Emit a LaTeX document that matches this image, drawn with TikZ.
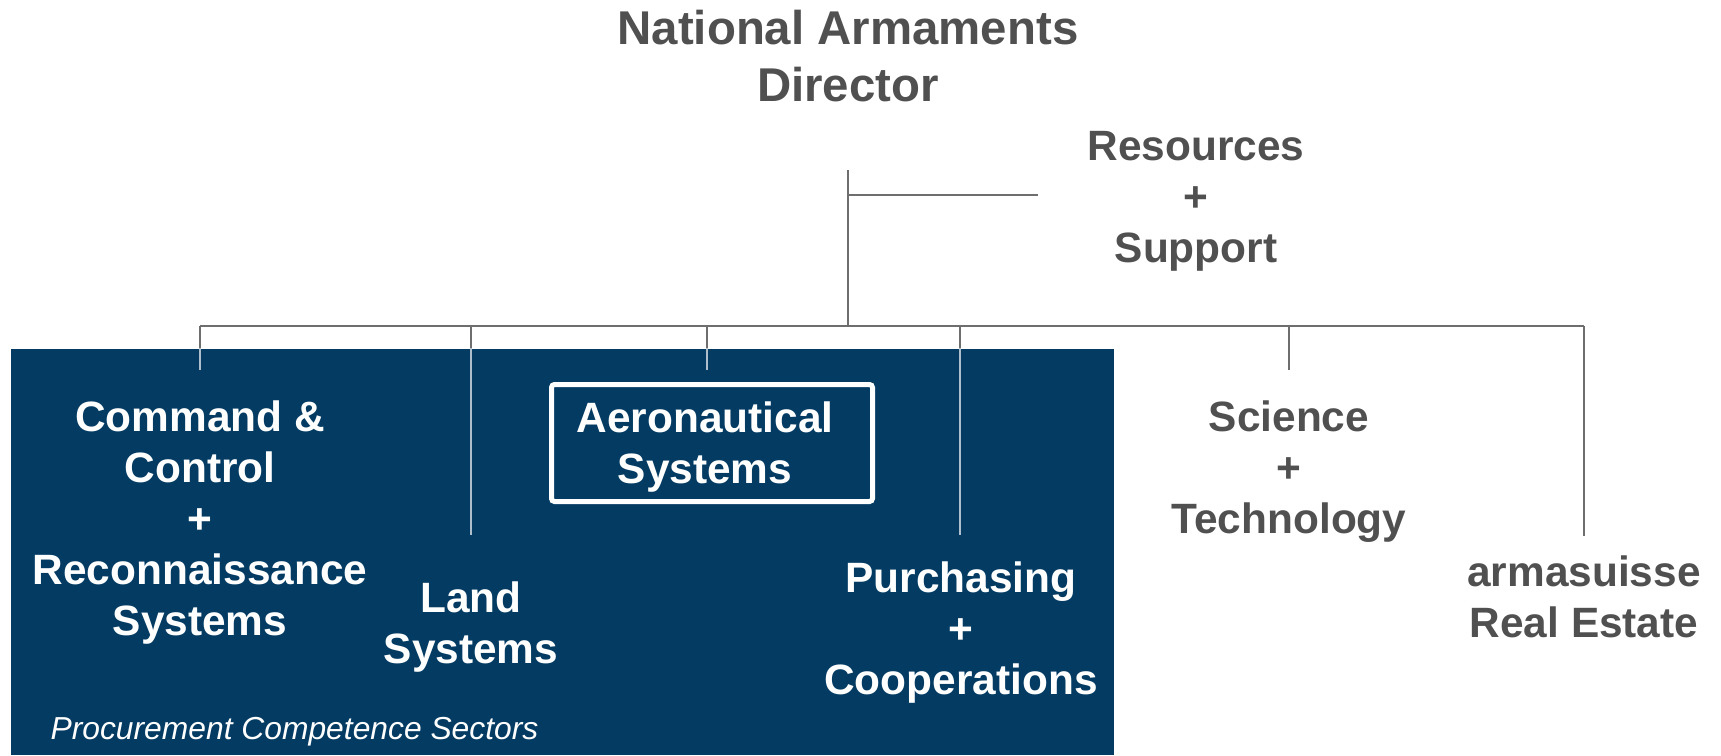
\documentclass[tikz,border=0pt]{standalone}
\usepackage{fontspec}
\setmainfont{Liberation Sans}
\definecolor{navy}{RGB}{3,59,99}
\definecolor{darkgray}{RGB}{80,80,80}
\definecolor{linegray}{RGB}{110,110,110}
\definecolor{palelink}{RGB}{175,190,205}

\begin{document}
\begin{tikzpicture}[x=1pt,y=-1pt,
  unit/.style={align=center,inner sep=0pt,text=darkgray,font=\fontsize{42.4}{51}\selectfont\bfseries},
  sector/.style={unit,text=white},
  link/.style={draw=linegray,line width=1.5pt}]
\useasboundingbox (0,0) rectangle (1721,755);
\node (box) at (562.5,552) [fill=navy,minimum width=1103,minimum height=406,inner sep=0pt] {};
\node (aerobox) at (712,443) [draw=white,line width=5pt,rounded corners=3pt,minimum width=321,minimum height=117] {};

\node  (nad) at (848, 56) [unit,font=\fontsize{47.4}{57}\selectfont\bfseries] {National Armaments\\Director};
\node  (res) at (1196,201) [unit] {Resources\\+\\Support};
\node   (cc) at (200, 523) [sector] {Command \&\\Control\\+\\Reconnaissance\\Systems};
\node (land) at (471, 627) [sector] {Land\\Systems};
\node (aero) at (705, 447) [sector] {Aeronautical\\Systems};
\node (purch) at (961,633) [sector] {Purchasing\\+\\Cooperations};
\node  (sci) at (1289,472) [unit] {Science\\+\\Technology};
\node (arma) at (1584,597) [unit] {armasuisse\\Real Estate};
\node (proc) at (294.5,739.5) [anchor=base,inner sep=0pt,text=white,font=\fontsize{31.8}{38}\selectfont\itshape] {Procurement Competence Sectors};

\coordinate (nad-out) at (848,170);
\coordinate (hub) at (848,326);
\coordinate (res-in) at (1038,195);
\coordinate (cc-in) at (200,370);
\coordinate (land-in) at (471,535);
\coordinate (aero-in) at (707,370);
\coordinate (purch-in) at (960,535);
\coordinate (sci-in) at (1289,370);
\coordinate (arma-in) at (1584,536);

\draw [link] (nad-out) -- (hub);
\draw [link] (nad-out |- res-in) -- (res-in);
\draw [link] (cc-in |- hub) -- (arma-in |- hub);
\foreach \u in {cc,land,aero,purch,sci,arma}
  \draw [link] (\u-in |- hub) -- (\u-in);
% drops look paler where they cross the blue field
\begin{scope}
\clip (box.north west) rectangle (box.south east);
\foreach \u in {cc,land,aero,purch}
  \draw [link,draw=palelink] (\u-in |- hub) -- (\u-in);
\end{scope}
\end{tikzpicture}
\end{document}
